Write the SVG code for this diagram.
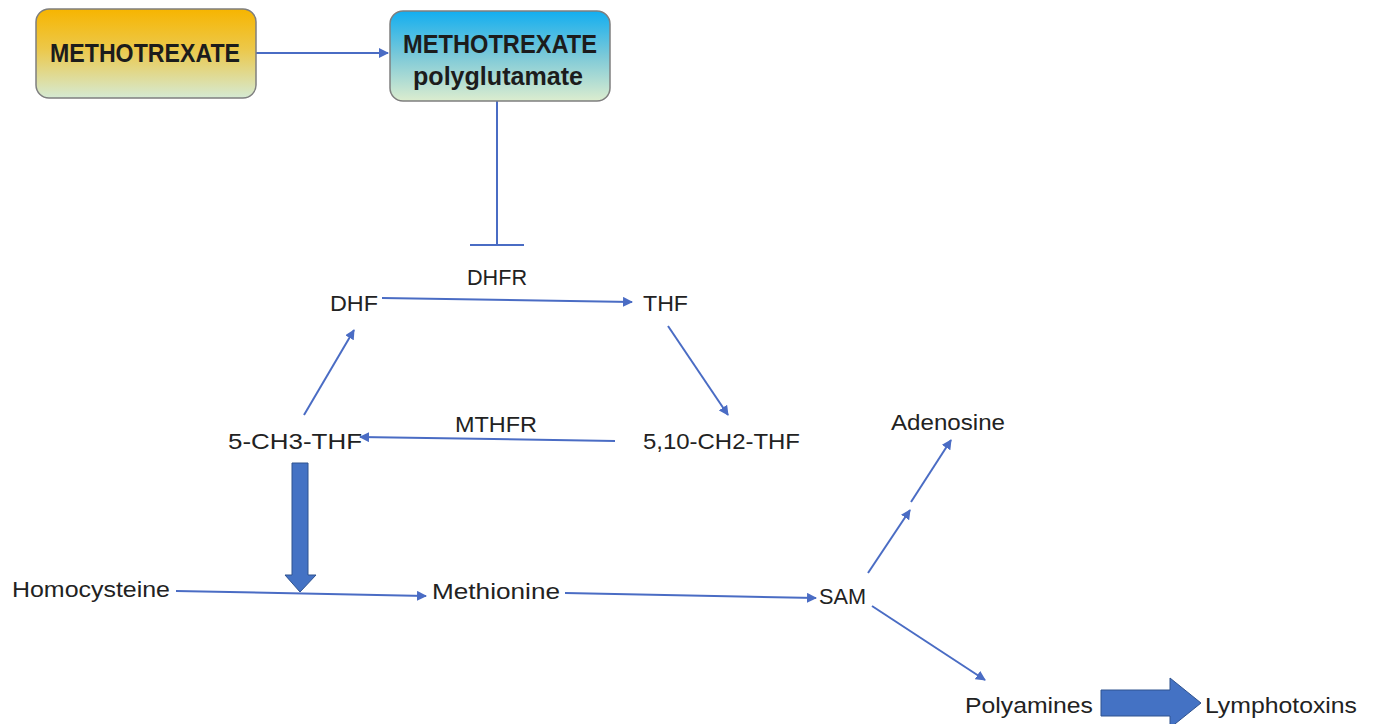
<svg xmlns="http://www.w3.org/2000/svg" width="1374" height="724" viewBox="0 0 1374 724">
<defs>
<linearGradient id="gOrange" x1="0" y1="0" x2="0" y2="1">
<stop offset="0" stop-color="#f7b500"/>
<stop offset="0.45" stop-color="#ecc84a"/>
<stop offset="1" stop-color="#d5ead3"/>
</linearGradient>
<linearGradient id="gBlue" x1="0" y1="0" x2="0" y2="1">
<stop offset="0" stop-color="#12aef0"/>
<stop offset="0.5" stop-color="#7cc9d8"/>
<stop offset="1" stop-color="#dcedcf"/>
</linearGradient>
<marker id="ah" viewBox="0 0 10 10" refX="9" refY="5" markerWidth="5" markerHeight="5" orient="auto" markerUnits="strokeWidth">
<path d="M0,0 L10,5 L0,10 z" fill="#4a6cc4"/>
</marker>
<style>
.box{stroke:#7f7f7f;stroke-width:1.5}
.bt{font-family:"Liberation Sans",Arial,sans-serif;font-weight:bold;font-size:26px;fill:#1c1c1c}
.lbl{font-family:"Liberation Sans",Arial,sans-serif;font-size:21.5px;fill:#222}
.ln{stroke:#4a6cc4;stroke-width:2;fill:none}
.arr{marker-end:url(#ah)}
.fat{fill:#4472c4;stroke:#2f528f;stroke-width:1}
</style>
</defs>
<rect width="1374" height="724" fill="#ffffff"/>

<g id="connectors">
<line class="ln arr" x1="256" y1="53" x2="388" y2="53"/>
<line class="ln" x1="497" y1="101" x2="497" y2="245"/>
<line class="ln" x1="470" y1="245" x2="524" y2="245"/>
<line class="ln arr" x1="382" y1="298" x2="632" y2="302"/>
<line class="ln arr" x1="668" y1="326" x2="728" y2="415"/>
<line class="ln arr" x1="615" y1="441" x2="360" y2="437"/>
<line class="ln arr" x1="304" y1="415" x2="354" y2="330"/>
<path class="fat" d="M292,463 H308 V575 H316 L300,592 L285,575 H292 Z"/>
<line class="ln arr" x1="176" y1="591" x2="426" y2="596"/>
<line class="ln arr" x1="565" y1="593" x2="816" y2="598"/>
<line class="ln arr" x1="868" y1="573" x2="910" y2="510"/>
<line class="ln arr" x1="911" y1="502" x2="951" y2="440"/>
<line class="ln arr" x1="872" y1="606" x2="985" y2="680"/>
<path class="fat" d="M1101,690 H1170 V678 L1201,703 L1170,728 V716 H1101 Z"/>
</g>

<g id="node-methotrexate">
<rect class="box" x="36" y="9" width="220" height="89" rx="13" fill="url(#gOrange)"/>
<text class="bt" x="50" y="62" textLength="190" lengthAdjust="spacingAndGlyphs">METHOTREXATE</text>
</g>
<g id="node-mtx-polyglutamate">
<rect class="box" x="390" y="11" width="220" height="90" rx="13" fill="url(#gBlue)"/>
<text class="bt" x="403" y="53" textLength="194" lengthAdjust="spacingAndGlyphs" fill="#1a2530">METHOTREXATE</text>
<text class="bt" x="413" y="85" textLength="170" lengthAdjust="spacingAndGlyphs" fill="#1a2530">polyglutamate</text>
</g>
<g id="label-dhfr"><text class="lbl" x="467" y="285" textLength="60" lengthAdjust="spacingAndGlyphs">DHFR</text></g>
<g id="node-dhf"><text class="lbl" x="330" y="311" textLength="48" lengthAdjust="spacingAndGlyphs">DHF</text></g>
<g id="node-thf"><text class="lbl" x="643" y="311" textLength="45" lengthAdjust="spacingAndGlyphs">THF</text></g>
<g id="label-mthfr"><text class="lbl" x="455" y="432" textLength="82" lengthAdjust="spacingAndGlyphs">MTHFR</text></g>
<g id="node-5ch3thf"><text class="lbl" x="228" y="449" textLength="134" lengthAdjust="spacingAndGlyphs">5-CH3-THF</text></g>
<g id="node-510ch2thf"><text class="lbl" x="643" y="449" textLength="157" lengthAdjust="spacingAndGlyphs">5,10-CH2-THF</text></g>
<g id="node-adenosine"><text class="lbl" x="891" y="430" textLength="114" lengthAdjust="spacingAndGlyphs">Adenosine</text></g>
<g id="node-homocysteine"><text class="lbl" x="12" y="597" textLength="158" lengthAdjust="spacingAndGlyphs">Homocysteine</text></g>
<g id="node-methionine"><text class="lbl" x="432" y="599" textLength="128" lengthAdjust="spacingAndGlyphs">Methionine</text></g>
<g id="node-sam"><text class="lbl" x="819" y="604" textLength="47" lengthAdjust="spacingAndGlyphs">SAM</text></g>
<g id="node-polyamines"><text class="lbl" x="965" y="713" textLength="128" lengthAdjust="spacingAndGlyphs">Polyamines</text></g>
<g id="node-lymphotoxins"><text class="lbl" x="1205" y="713" textLength="152" lengthAdjust="spacingAndGlyphs">Lymphotoxins</text></g>
</svg>
